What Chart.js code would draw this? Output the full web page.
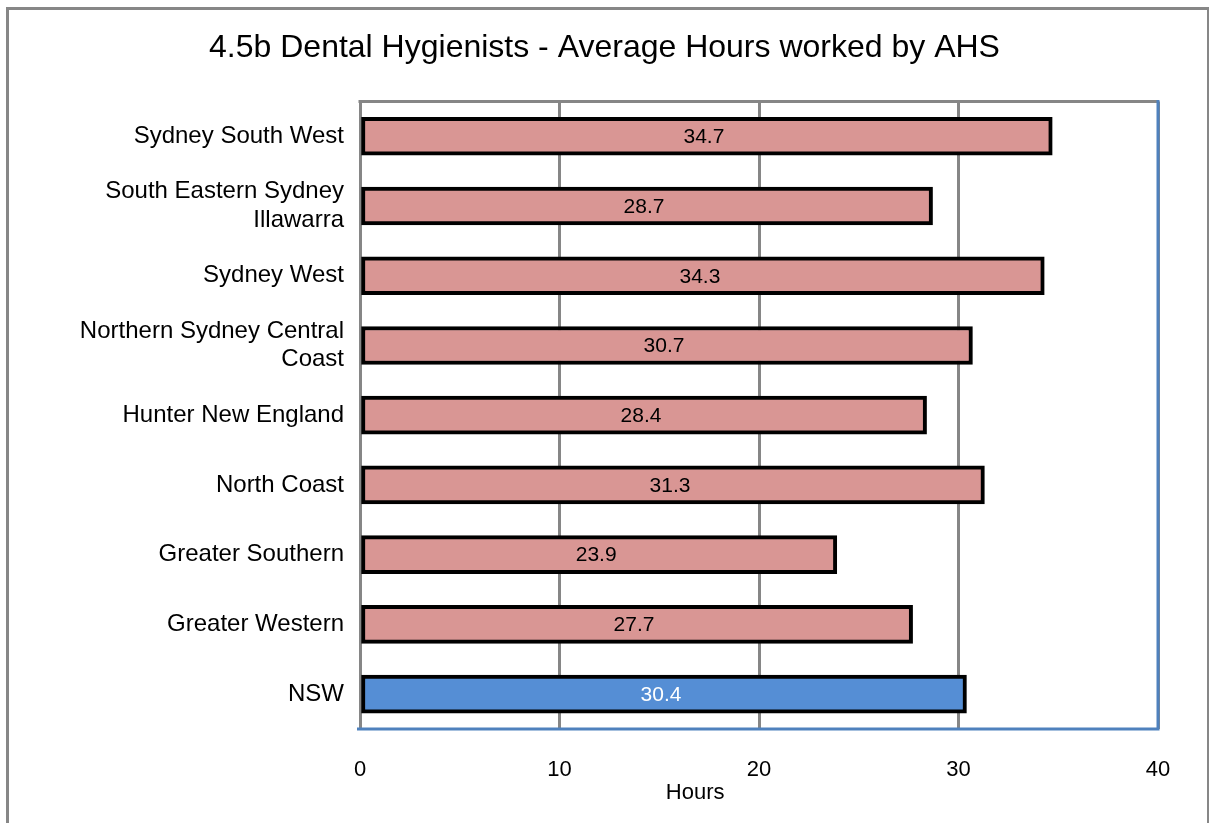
<!DOCTYPE html>
<html>
<head>
<meta charset="utf-8">
<script src="https://cdn.jsdelivr.net/npm/chart.js@4"></script>
<style>
  body { margin: 0; background: #fff; }
  .wrap { position: relative; width: 1209px; height: 823px; overflow: hidden; }
  .frame {
    position: absolute; left: 6px; top: 7px; width: 1198px; height: 900px;
    border: 3px solid #878787; border-bottom: none; pointer-events: none;
  }
  canvas { position: absolute; left: 0; top: 0; }
</style>
</head>
<body>
<div class="wrap">
  <canvas id="hoursChart" width="1209" height="823"></canvas>
  <div class="frame"></div>
</div>
<script>
const categories = [
  "Sydney South West",
  ["South Eastern Sydney", "Illawarra"],
  "Sydney West",
  ["Northern Sydney Central", "Coast"],
  "Hunter New England",
  "North Coast",
  "Greater Southern",
  "Greater Western",
  "NSW",
];
const hours = [34.7, 28.7, 34.3, 30.7, 28.4, 31.3, 23.9, 27.7, 30.4];
const xTicks = [0, 10, 20, 30, 40];

const pink = "#D99694";
const blue = "#558ED5";
const barColors = categories.map((c) => (c === "NSW" ? blue : pink));
const labelColors = categories.map((c) => (c === "NSW" ? "#fff" : "#000"));

Chart.defaults.font.family = "'Liberation Sans', Arial, sans-serif";
Chart.defaults.color = "#000";

// plot area frame: grey top, blue right + bottom
const plotFrame = {
  id: "plotFrame",
  beforeDatasetsDraw(chart) {
    const { ctx, chartArea: a } = chart;
    ctx.save();
    ctx.lineWidth = 3;
    ctx.strokeStyle = "#868686";
    ctx.beginPath();
    ctx.moveTo(a.left - 1.5, a.top);
    ctx.lineTo(a.right, a.top);
    ctx.stroke();
    ctx.strokeStyle = "#4F81BD";
    ctx.beginPath();
    ctx.moveTo(a.right, a.top - 1.5);
    ctx.lineTo(a.right, a.bottom);
    ctx.lineTo(a.left - 3, a.bottom);
    ctx.stroke();
    ctx.restore();
  },
};

// value labels in middle of each bar
const barLabels = {
  id: "barLabels",
  afterDatasetsDraw(chart) {
    const { ctx } = chart;
    const meta = chart.getDatasetMeta(0);
    ctx.save();
    ctx.font = "21px 'Liberation Sans', Arial, sans-serif";
    ctx.textAlign = "center";
    ctx.textBaseline = "middle";
    meta.data.forEach((bar, i) => {
      ctx.fillStyle = labelColors[i];
      ctx.fillText(hours[i].toFixed(1), (bar.x + bar.base) / 2 - 3, bar.y + 1);
    });
    // axis title, sits left of the plot centre like the original
    ctx.fillStyle = "#000";
    ctx.font = "22px 'Liberation Sans', Arial, sans-serif";
    const xs = chart.scales.x;
    ctx.fillText("Hours", xs.getPixelForValue(16.8), 793);
    ctx.restore();
  },
};

new Chart(document.getElementById("hoursChart"), {
  type: "bar",
  data: {
    labels: categories,
    datasets: [
      {
        data: hours,
        backgroundColor: barColors,
        borderColor: "#000",
        borderWidth: 4,
        barThickness: 38,
        borderSkipped: false,
      },
    ],
  },
  options: {
    indexAxis: "y",
    responsive: false,
    animation: false,
    layout: { padding: { left: 51, right: 51, top: 0, bottom: 0 } },
    plugins: {
      legend: { display: false },
      tooltip: { enabled: false },
      title: {
        display: true,
        text: "4.5b Dental Hygienists - Average Hours worked by AHS",
        font: { size: 32, weight: "normal", lineHeight: 1.2 },
        color: "#000",
        padding: { top: 29, bottom: 34 },
      },
    },
    scales: {
      x: {
        min: 0,
        max: 40,
        afterBuildTicks(scale) {
          scale.ticks = xTicks.map((v) => ({ value: v }));
        },
        afterFit(scale) {
          scale.height = 94;
        },
        grid: { color: "#868686", lineWidth: 3, drawTicks: false },
        border: { display: false },
        ticks: { font: { size: 22 }, padding: 28 },
      },
      y: {
        afterFit(scale) {
          scale.width = 309;
        },
        grid: { display: false, drawTicks: false },
        border: { display: false },
        ticks: { font: { size: 24, lineHeight: 1.18 }, padding: 16 },
      },
    },
  },
  plugins: [plotFrame, barLabels],
});
</script>
</body>
</html>
